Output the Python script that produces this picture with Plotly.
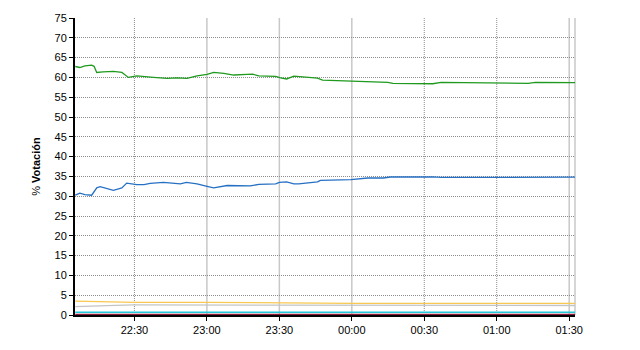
import plotly.graph_objects as go
from datetime import datetime, timedelta

base = datetime(2011, 11, 20, 22, 0)

# minutes after 22:00 and % values
green_t = [5.5, 7.4, 9.5, 12.3, 13.3, 14.4, 17, 21.3, 24.8, 27.5, 31, 33.8, 37.9, 43.5, 47.6, 51.8, 55.9, 60.1, 62.8, 67, 71.1, 76.7, 79, 81.5, 88.5, 90.5, 93, 96, 98, 105.8, 107.9, 119.6, 126.6, 134.9, 137, 150, 153.5, 157, 180.6, 193, 196, 213]
green_v = [62.75, 62.5, 62.9, 63.1, 62.8, 61.25, 61.4, 61.5, 61.25, 60.0, 60.4, 60.2, 60.0, 59.75, 59.9, 59.75, 60.4, 60.75, 61.25, 61.0, 60.6, 60.75, 60.8, 60.4, 60.25, 59.9, 59.6, 60.3, 60.2, 59.8, 59.3, 59.1, 58.9, 58.75, 58.5, 58.5, 58.4, 58.75, 58.6, 58.5, 58.75, 58.7]

blue_t = [5.5, 7.4, 9.5, 12.3, 14.4, 15.8, 21.3, 24.8, 26.8, 31, 34, 36.5, 42, 45, 49, 51.5, 55.9, 60.1, 62.8, 68.4, 75.4, 78, 81.5, 88.5, 90, 93, 96, 98, 105.8, 107, 119.6, 126.6, 133, 136, 150, 153.5, 157, 180, 213]
blue_v = [30.25, 30.75, 30.4, 30.25, 32.1, 32.4, 31.5, 32.1, 33.3, 32.9, 32.9, 33.25, 33.5, 33.3, 33.1, 33.5, 33.1, 32.5, 32.1, 32.7, 32.5, 32.6, 33.0, 33.1, 33.5, 33.6, 33.1, 33.1, 33.6, 34.0, 34.2, 34.6, 34.6, 34.85, 34.85, 34.9, 34.75, 34.8, 34.8]

yellow_t = [5.5, 20, 30, 60, 90, 120, 150, 180, 213]
yellow_v = [3.5, 3.4, 3.2, 3.2, 3.05, 2.95, 2.95, 2.95, 2.95]

gray_t = [5.5, 15, 22, 30, 60, 90, 120, 150, 180, 213]
gray_v = [2.1, 2.2, 2.45, 2.55, 2.55, 2.5, 2.45, 2.4, 2.4, 2.4]

cyan_t = [5.5, 60, 120, 180, 213]
cyan_v = [0.7, 0.7, 0.7, 0.7, 0.7]

maroon_t = [5.5, 60, 120, 180, 213]
maroon_v = [0.15, 0.15, 0.15, 0.15, 0.15]

tick_minutes = [30, 60, 90, 120, 150, 180, 210]
tick_labels = ["22:30", "23:00", "23:30", "00:00", "00:30", "01:00", "01:30"]
dotted_grid_minutes = [30, 150, 180]
solid_grid_minutes = [60, 90, 120, 210]


def tm(lst):
    return [base + timedelta(minutes=m) for m in lst]


fig = go.Figure()
series = [
    (maroon_t, maroon_v, "#8b1a3a"),
    (cyan_t, cyan_v, "#22c8d8"),
    (gray_t, gray_v, "#c4c4c4"),
    (yellow_t, yellow_v, "#f8c850"),
    (blue_t, blue_v, "#2670c4"),
    (green_t, green_v, "#1f9a1f"),
]
for t, v, c in series:
    fig.add_trace(go.Scatter(x=tm(t), y=v, mode="lines",
                             line=dict(color=c, width=1.3), showlegend=False,
                             hoverinfo="skip"))

for m in dotted_grid_minutes:
    fig.add_shape(type="line", xref="x", yref="paper",
                  x0=base + timedelta(minutes=m), x1=base + timedelta(minutes=m),
                  y0=0, y1=1, line=dict(color="#8c8c8c", width=1, dash="1px,1px"),
                  layer="below")
for m in solid_grid_minutes:
    fig.add_shape(type="line", xref="x", yref="paper",
                  x0=base + timedelta(minutes=m), x1=base + timedelta(minutes=m),
                  y0=0, y1=1, line=dict(color="#c8c8c8", width=1.5), layer="below")
fig.add_shape(type="line", xref="paper", yref="paper", x0=1, x1=1, y0=0, y1=1,
              line=dict(color="#c8c8c8", width=1.5), layer="below")

fig.update_layout(
    width=640, height=350,
    margin=dict(l=75, r=65, t=15, b=35),
    paper_bgcolor="white", plot_bgcolor="white",
    font=dict(family="Liberation Sans, Arial, sans-serif", size=11, color="black"),
    xaxis=dict(
        range=[base + timedelta(minutes=5.4), base + timedelta(minutes=212.4)],
        tickvals=tm(tick_minutes), ticktext=tick_labels,
        showgrid=False,
        showline=True, linecolor="black", linewidth=2,
        ticks="outside", ticklen=4, tickcolor="black",
        zeroline=False,
    ),
    yaxis=dict(
        range=[0, 75], dtick=5, tick0=0,
        showgrid=True, gridcolor="#8c8c8c", griddash="1px,1px", gridwidth=1,
        showline=True, linecolor="black", linewidth=2,
        ticks="outside", ticklen=4, tickcolor="black",
        zeroline=False,
        title=dict(text="% <b>Votación</b>", standoff=12,
                   font=dict(size=11)),
    ),
)

fig.write_html("out.html")
